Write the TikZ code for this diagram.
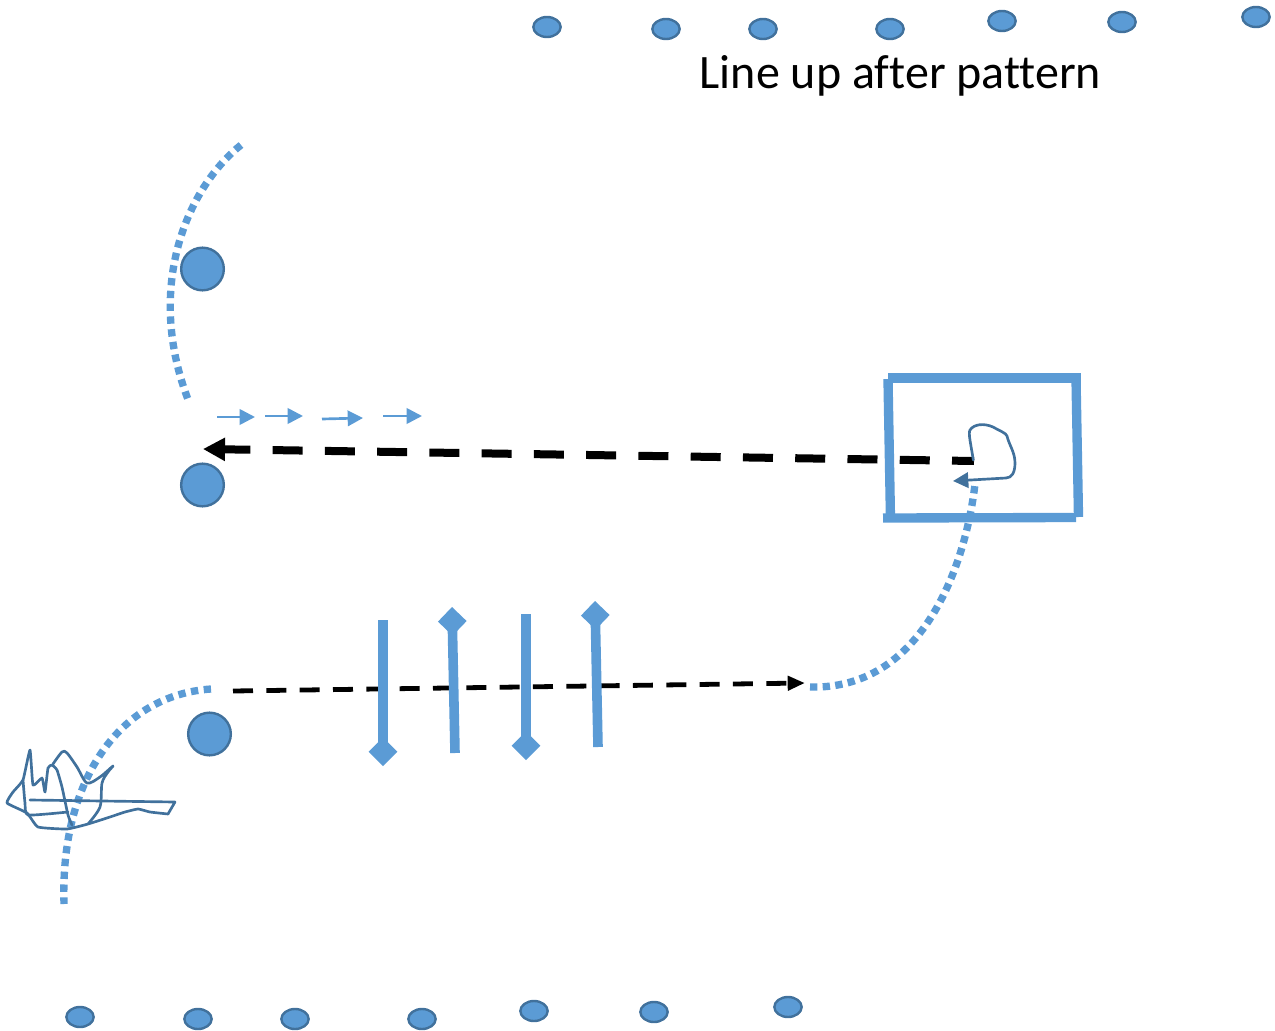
\documentclass[tikz,border=0pt]{standalone}
\usepackage{fontspec}
\setmainfont[Ligatures=CommonOff]{Carlito}
\usetikzlibrary{arrows.meta,shapes.geometric}
\definecolor{bluefill}{HTML}{5B9BD5}
\definecolor{blueedge}{HTML}{41719C}
\tikzset{
  px/.style={x=0.75pt,y=-0.75pt},
  bigdot/.style={circle,draw=blueedge,fill=bluefill,line width=1.8pt,minimum size=32pt,inner sep=0pt},
  smalldot/.style={ellipse,draw=blueedge,fill=bluefill,line width=1.8pt,minimum width=20.5pt,minimum height=15pt,inner sep=0pt},
  dotline/.style={draw=bluefill,line width=5.5pt,dash pattern=on 5.5pt off 4pt},
  boxside/.style={draw=bluefill,line width=7pt},
  bar/.style={draw=bluefill,line width=7.2pt},
  barend/.style={-{Diamond[length=21.5pt,width=21.5pt,fill=bluefill]}},
  tinyarrow/.style={draw=bluefill,line width=2pt,-{Triangle[length=11.5pt,width=11.5pt,fill=bluefill]}},
  bigdash/.style={draw=black,line width=6pt,dash pattern=on 22.5pt off 16.7pt,dash phase=6pt,-{Triangle[length=16.5pt,width=16.5pt,fill=black]}},
  thindash/.style={draw=black,line width=3.6pt,dash pattern=on 15pt off 10pt,-{Triangle[length=13pt,width=10.5pt,fill=black]}},
  scribble/.style={draw=blueedge,line width=2pt,line join=round,line cap=round},
  label/.style={font=\fontsize{36pt}{40pt}\selectfont,text=black,inner sep=0pt}
}
\begin{document}
\begin{tikzpicture}[px]
\useasboundingbox (0,0) rectangle (1275,1031);
% small dots top
\node[smalldot] (t1) at (547,27) {};
\node[smalldot] (t2) at (666,29) {};
\node[smalldot] (t3) at (763,29) {};
\node[smalldot] (t4) at (890,29) {};
\node[smalldot] (t5) at (1002,21) {};
\node[smalldot] (t6) at (1122,22) {};
\node[smalldot] (t7) at (1256,17) {};
% small dots bottom
\node[smalldot] (b1) at (80,1017) {};
\node[smalldot] (b2) at (198,1019) {};
\node[smalldot] (b3) at (295,1019) {};
\node[smalldot] (b4) at (422,1019) {};
\node[smalldot] (b5) at (534,1011) {};
\node[smalldot] (b6) at (654,1012) {};
\node[smalldot] (b7) at (788,1007) {};
\node[label,anchor=base] (title) at (900.5,88.5) {Line up after pattern};
% big dots
\node[bigdot] (p1) at (202.5,269) {};
\node[bigdot] (p2) at (202.5,485) {};
\node[bigdot] (p3) at (209.5,734) {};
% dotted routes
\coordinate (a1) at (241,145);
\coordinate (a2) at (189,402);
\coordinate (c1) at (211,689);
\coordinate (c2) at (64,904);
\coordinate (d1) at (810,687);
\coordinate (d2) at (975,484);
\draw[dotline,dash pattern=on 5.5pt off 4.1pt] (a1) .. controls (185,190) and (145,290) .. (a2);
\draw[dotline,dash pattern=on 5.5pt off 4.15pt] (c1) .. controls (120,695) and (60,780) .. (c2);
\draw[dotline] (d1) .. controls (920,690) and (965,570) .. (d2);
% box
\coordinate (r1a) at (888,378); \coordinate (r1b) at (1081,378);
\coordinate (r2a) at (1076,378); \coordinate (r2b) at (1078.5,517);
\coordinate (r3a) at (883,518); \coordinate (r3b) at (1076,517.5);
\coordinate (r4a) at (888,379); \coordinate (r4b) at (890.5,520);
\draw[boxside] (r1a) -- (r1b);
\draw[boxside] (r2a) -- (r2b);
\draw[boxside] (r3a) -- (r3b);
\draw[boxside] (r4a) -- (r4b);
% small arrows
\coordinate (s1a) at (217,417); \coordinate (s1b) at (255,417);
\coordinate (s2a) at (265,416); \coordinate (s2b) at (303,416);
\coordinate (s3a) at (322,419); \coordinate (s3b) at (363,418);
\coordinate (s4a) at (383,416); \coordinate (s4b) at (422,416);
\draw[tinyarrow] (s1a) -- (s1b);
\draw[tinyarrow] (s2a) -- (s2b);
\draw[tinyarrow] (s3a) -- (s3b);
\draw[tinyarrow] (s4a) -- (s4b);
% black dashed
\coordinate (h1) at (974,461);
\coordinate (h2) at (203,449);
\draw[bigdash] (h1) -- (h2);
\coordinate (k1) at (233,691);
\coordinate (k2) at (805,683);
\draw[thindash] (k1) -- (k2);
% bars
\coordinate (v1a) at (383,620); \coordinate (v1b) at (383,766);
\coordinate (v2a) at (455,753); \coordinate (v2b) at (452,607);
\coordinate (v3a) at (526,614); \coordinate (v3b) at (526,760);
\coordinate (v4a) at (598,747); \coordinate (v4b) at (595,601);
\draw[bar,barend] (v1a) -- (v1b);
\draw[bar,barend] (v2a) -- (v2b);
\draw[bar,barend] (v3a) -- (v3b);
\draw[bar,barend] (v4a) -- (v4b);
% loop in box
\draw[scribble,-{Triangle[length=11.5pt,width=11.5pt,fill=blueedge]}]
  (973.3,460) .. controls (971,445) and (968,433) .. (970,430)
  .. controls (974,424) and (984,423) .. (993,427)
  .. controls (1000,431) and (1006,433) .. (1007,436)
  .. controls (1009,445) and (1015,452) .. (1015,463)
  .. controls (1015,472) and (1012,478) .. (1006,478)
  -- (953,481);
% scribble
\draw[scribble] (30,800) -- (175,802) -- (168,814) -- plot[smooth,tension=0.25] coordinates {
  (168,814) (150,812) (138,809) (125,812) (110,817)
  (88,824) (67,829) (38,827) (27,813) (7,803) (13,792) (23,780)
  (30,750) (33,785) (42,778) (45,792) (48,768) (52,765)
  (57,770) (62,787) (68,815) (72,825)};
\draw[scribble] plot[smooth] coordinates {
  (53,764) (62,752) (67,753) (77,767) (87,783) (100,777) (113,766) (108,772) (102,783) (100,807) (88,824)};
\draw[scribble] plot[smooth,tension=0.3] coordinates {(23,780) (25,803) (28,815) (68,812)};
\end{tikzpicture}
\end{document}
